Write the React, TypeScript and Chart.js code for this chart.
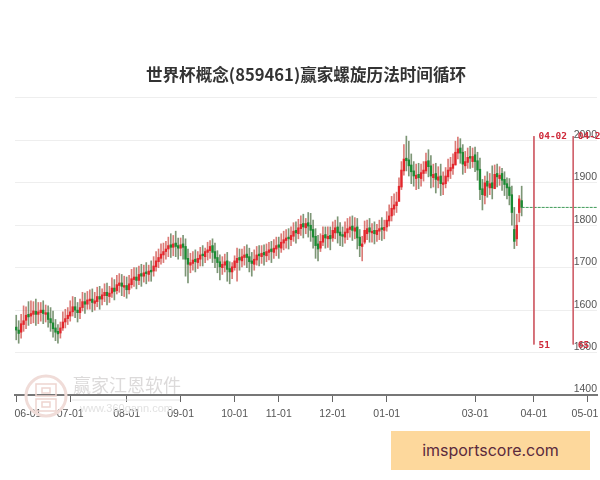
import React, { useEffect, useRef } from "react";
import { Chart, registerables } from "chart.js";

Chart.register(...registerables);

const chartTitle = "世界杯概念(859461)赢家螺旋历法时间循环";
const tickIndex = [0, 22, 45, 67, 89, 107, 129, 151, 187, 211, 233];
const tickLabels = ["06-01", "07-01", "08-01", "09-01", "10-01", "11-01", "12-01", "01-01", "03-01", "04-01", "05-01"];

const opens = [
  1560,1553,1548,1566,1576,1590,1586,1590,1597,1590,
  1594,1600,1590,1594,1580,1570,1558,1550,1546,1558,
  1572,1580,1586,1596,1608,1600,1594,1606,1620,1614,
  1622,1626,1616,1620,1632,1626,1634,1642,1632,1640,
  1652,1646,1658,1664,1654,1658,1648,1660,1672,1678,
  1670,1686,1680,1690,1684,1694,1692,1702,1714,1722,
  1730,1738,1744,1754,1748,1758,1752,1746,1756,1750,
  1722,1706,1710,1720,1712,1720,1732,1726,1736,1740,
  1752,1738,1724,1714,1700,1706,1716,1698,1690,1700,
  1712,1724,1716,1724,1732,1726,1716,1708,1718,1732,
  1726,1736,1728,1736,1744,1736,1744,1754,1746,1758,
  1764,1772,1766,1774,1788,1780,1792,1804,1794,1806,
  1800,1790,1774,1756,1746,1760,1778,1768,1776,1770,
  1782,1796,1784,1778,1772,1782,1790,1798,1786,1796,
  1772,1750,1760,1780,1794,1782,1788,1778,1786,1794,
  1788,1796,1810,1822,1838,1846,1856,1890,1928,1958,
  1954,1942,1928,1910,1920,1910,1922,1928,1952,1940,
  1912,1922,1906,1916,1896,1898,1914,1928,1934,1942,
  1970,1982,1972,1940,1948,1962,1950,1966,1952,1932,
  1886,1870,1904,1888,1900,1886,1922,1910,1922,1908,
  1898,1890,1872,1790,1768,1830,1858,
];
const closes = [
  1553,1545,1568,1575,1588,1584,1592,1598,1590,1596,
  1600,1592,1594,1578,1570,1556,1548,1544,1558,1572,
  1580,1588,1596,1608,1600,1594,1606,1620,1614,1624,
  1626,1618,1622,1632,1626,1636,1642,1634,1640,1652,
  1644,1660,1664,1656,1658,1648,1662,1674,1678,1670,
  1684,1680,1688,1686,1692,1690,1704,1716,1724,1732,
  1738,1744,1752,1748,1756,1750,1746,1754,1748,1720,
  1708,1712,1718,1714,1722,1730,1728,1738,1742,1750,
  1736,1722,1712,1702,1708,1714,1696,1690,1702,1716,
  1722,1718,1726,1730,1724,1714,1710,1720,1730,1728,
  1734,1730,1738,1742,1738,1746,1752,1748,1760,1766,
  1770,1768,1776,1786,1782,1794,1802,1796,1804,1798,
  1788,1772,1752,1744,1762,1776,1770,1774,1768,1788,
  1794,1782,1776,1774,1784,1792,1796,1788,1794,1770,
  1752,1756,1788,1792,1784,1786,1780,1788,1792,1790,
  1795,1812,1822,1840,1848,1855,1892,1930,1956,1952,
  1940,1926,1916,1918,1912,1924,1930,1950,1938,1916,
  1920,1908,1914,1898,1900,1916,1930,1936,1944,1972,
  1980,1970,1944,1950,1960,1958,1962,1950,1930,1884,
  1872,1900,1892,1898,1888,1920,1914,1918,1906,1896,
  1888,1870,1830,1762,1800,1862,1842,
];
const highs = [
  1588,1575,1590,1610,1608,1620,1622,1620,1626,1618,
  1618,1622,1612,1610,1606,1598,1578,1566,1572,1596,
  1602,1606,1622,1632,1630,1618,1626,1642,1640,1644,
  1648,1650,1642,1654,1656,1650,1662,1664,1656,1676,
  1672,1682,1686,1684,1680,1678,1682,1696,1700,1700,
  1704,1708,1706,1712,1706,1716,1726,1738,1744,1756,
  1758,1762,1772,1780,1776,1786,1770,1770,1776,1768,
  1744,1734,1738,1742,1738,1748,1752,1746,1760,1764,
  1768,1758,1740,1730,1726,1732,1736,1714,1712,1728,
  1746,1744,1744,1750,1754,1746,1736,1742,1750,1752,
  1752,1754,1756,1760,1762,1766,1772,1772,1780,1786,
  1790,1792,1796,1806,1808,1814,1822,1826,1816,1830,
  1828,1812,1792,1776,1780,1796,1796,1796,1796,1808,
  1812,1820,1806,1796,1808,1816,1820,1822,1818,1816,
  1790,1774,1810,1812,1816,1804,1808,1802,1812,1818,
  1812,1832,1848,1868,1874,1878,1912,1950,1990,2010,
  1998,1968,1950,1944,1946,1944,1950,1970,1978,1964,
  1944,1946,1938,1944,1926,1936,1956,1960,1968,1998,
  2008,2004,1990,1974,1982,1986,1982,1984,1972,1958,
  1908,1916,1926,1922,1940,1942,1944,1938,1934,1926,
  1912,1910,1892,1842,1826,1870,1892,
];
const lows = [
  1530,1522,1534,1550,1556,1564,1568,1570,1564,1568,
  1574,1568,1572,1560,1550,1536,1528,1522,1534,1552,
  1558,1566,1574,1586,1582,1572,1580,1598,1592,1602,
  1602,1596,1600,1608,1602,1612,1620,1612,1618,1630,
  1624,1638,1642,1634,1632,1628,1638,1652,1656,1650,
  1660,1656,1666,1662,1668,1668,1680,1692,1700,1708,
  1712,1720,1726,1724,1728,1726,1720,1728,1720,1680,
  1664,1688,1694,1690,1698,1704,1704,1712,1718,1722,
  1712,1700,1688,1671,1684,1690,1668,1662,1674,1694,
  1668,1694,1702,1706,1700,1690,1680,1694,1706,1704,
  1710,1706,1714,1718,1712,1722,1728,1722,1736,1742,
  1746,1744,1752,1762,1758,1768,1776,1770,1780,1772,
  1762,1746,1722,1716,1738,1752,1746,1748,1742,1762,
  1768,1758,1752,1750,1758,1766,1772,1764,1768,1744,
  1726,1716,1756,1766,1760,1760,1756,1762,1766,1764,
  1768,1786,1798,1810,1824,1830,1862,1884,1918,1928,
  1916,1898,1892,1884,1886,1892,1904,1922,1914,1888,
  1890,1876,1888,1870,1872,1888,1904,1910,1920,1942,
  1956,1946,1920,1924,1934,1934,1936,1926,1906,1860,
  1836,1850,1866,1872,1862,1894,1890,1894,1882,1870,
  1862,1848,1800,1745,1752,1808,1822,
];

const cycleIndex = [211, 227];
const cycleDates = ["04-02", "04-23"];
const cycleCounts = ["51", "65"];
const cycleTop = 2010;
const cycleBottom = 1519;
const lastClose = 1842;
const lastCloseRange = [206, 236.7];

const UP = "#e3262c";
const DOWN = "#1b8a32";
const UP_WICK = "rgba(205,70,65,0.72)";
const DOWN_WICK = "rgba(75,110,65,0.72)";

const overlay = {
  id: "overlay",
  beforeDatasetsDraw(chart: any) {
    const { ctx } = chart;
    ctx.save();
    ctx.strokeStyle = "#f0dcd8";
    ctx.lineWidth = 3;
    ctx.beginPath();
    ctx.arc(46, 396, 20, 0, Math.PI * 2);
    ctx.stroke();
    ctx.lineWidth = 1.5;
    ctx.strokeStyle = "#eed5d0";
    ctx.strokeRect(36, 384, 20, 12);
    ctx.strokeRect(36, 399, 20, 12);
    ctx.strokeRect(42, 388, 8, 5);
    ctx.strokeRect(42, 402, 8, 5);
    ctx.fillStyle = "#dcdada";
    ctx.font = '18px "Noto Sans CJK SC"';
    ctx.textBaseline = "middle";
    ctx.fillText("赢家江恩软件", 73, 385);
    ctx.strokeStyle = "#e4e4e4";
    ctx.lineWidth = 1;
    ctx.beginPath();
    ctx.moveTo(72, 400);
    ctx.lineTo(180, 400);
    ctx.stroke();
    ctx.fillStyle = "#e2e2e2";
    ctx.font = '11px "Liberation Sans"';
    ctx.fillText("www.360gann.com", 80, 409);
    ctx.restore();
  },
  afterDatasetsDraw(chart: any) {
    const { ctx, scales } = chart;
    ctx.save();
    ctx.fillStyle = "#cf2a3a";
    ctx.font = 'bold 9.5px "DejaVu Sans Mono"';
    ctx.textAlign = "left";
    ctx.textBaseline = "middle";
    cycleIndex.forEach((v, i) => {
      const px = scales.x.getPixelForValue(v) + 4.5;
      ctx.fillText(cycleDates[i], px, scales.y.getPixelForValue(cycleTop));
      ctx.fillText(cycleCounts[i], px, scales.y.getPixelForValue(cycleBottom) + 1.5);
    });
    ctx.restore();
  },
};

export default function App() {
  const ref = useRef<HTMLCanvasElement>(null);
  useEffect(() => {
    document.body.style.margin = "0";
    const xs = closes.map((_, i) => i);
    const up = closes.map((c, i) => c >= opens[i]);
    const cycleSets = cycleIndex.map((v) => ({
      type: "line" as const,
      data: [
        { x: v, y: cycleTop },
        { x: v, y: cycleBottom },
      ],
      borderColor: "#d0606a",
      borderWidth: 1,
      pointRadius: 0,
      order: 0,
    }));
    const chart = new Chart(ref.current!, {
      type: "bar",
      data: {
        datasets: [
          {
            type: "bar",
            data: xs.map((x) => ({ x, y: [lows[x], highs[x]] })),
            backgroundColor: up.map((u) => (u ? UP_WICK : DOWN_WICK)),
            barThickness: 1,
            grouped: false,
            order: 3,
          },
          {
            type: "bar",
            data: xs.map((x) => ({ x, y: [opens[x], closes[x]] })),
            backgroundColor: up.map((u) => (u ? UP : DOWN)),
            barThickness: 1.7,
            grouped: false,
            order: 2,
          },
          {
            type: "line",
            data: lastCloseRange.map((x) => ({ x, y: lastClose })),
            borderColor: "#3f9a58",
            borderWidth: 1,
            borderDash: [3, 1],
            pointRadius: 0,
            order: 1,
          },
          ...cycleSets,
        ] as any,
      },
      options: {
        responsive: false,
        animation: false,
        layout: { autoPadding: false, padding: { left: 15, right: 3, top: 0, bottom: 0 } },
        plugins: {
          legend: { display: false },
          tooltip: { enabled: false },
          title: {
            display: true,
            text: chartTitle,
            color: "#333",
            font: { family: '"Noto Sans CJK SC"', size: 16.6, weight: "bold" },
            padding: { top: 65, bottom: 13 },
          },
        },
        scales: {
          x: {
            type: "linear",
            offset: false,
            min: -0.5,
            max: 236.7,
            afterBuildTicks(scale: any) {
              scale.ticks = tickIndex.map((value) => ({ value }));
            },
            afterFit(scale: any) {
              scale.height = 85;
              scale.paddingLeft = 0;
              scale.paddingRight = 0;
            },
            grid: {
              drawOnChartArea: false,
              drawTicks: true,
              tickLength: 7,
              tickColor: "#666",
              tickWidth: 1,
              offset: false,
            },
            border: { color: "#777", width: 2 },
            ticks: {
              autoSkip: false,
              maxRotation: 0,
              padding: 6,
              color: "#555",
              font: { family: '"Liberation Sans"', size: 10.5 },
              callback(value: any) {
                const i = tickIndex.indexOf(value);
                if (i === 0) return "        " + tickLabels[i];
                if (i === tickLabels.length - 1) return tickLabels[i] + "  ";
                return tickLabels[i];
              },
            },
          },
          y: {
            type: "linear",
            position: "right",
            min: 1400,
            max: 2100,
            afterFit(scale: any) {
              scale.width = 0;
            },
            grid: { color: "#eeeeee", drawTicks: false },
            border: { display: false },
            ticks: {
              stepSize: 100,
              mirror: true,
              padding: 0,
              labelOffset: -5.5,
              color: "#555",
              font: { family: '"Liberation Sans"', size: 10.5 },
              callback: (v: any) => (v === 2100 ? "" : String(v)),
            },
          },
        },
      },
      plugins: [overlay],
    } as any);
    return () => chart.destroy();
  }, []);
  return (
    <div style={{ position: "relative", width: 600, height: 480, overflow: "hidden", background: "#fff" }}>
      <canvas ref={ref} width={600} height={480} style={{ display: "block", filter: "blur(0.4px)" }} />
      <div
        style={{
          position: "absolute",
          left: 391,
          top: 431,
          width: 199,
          height: 38.5,
          background: "#fdd89c",
          color: "#5b2a3c",
          font: '16px/38.5px Inter, Roboto, sans-serif',
          textAlign: "center",
        }}
      >
        imsportscore.com
      </div>
    </div>
  );
}
